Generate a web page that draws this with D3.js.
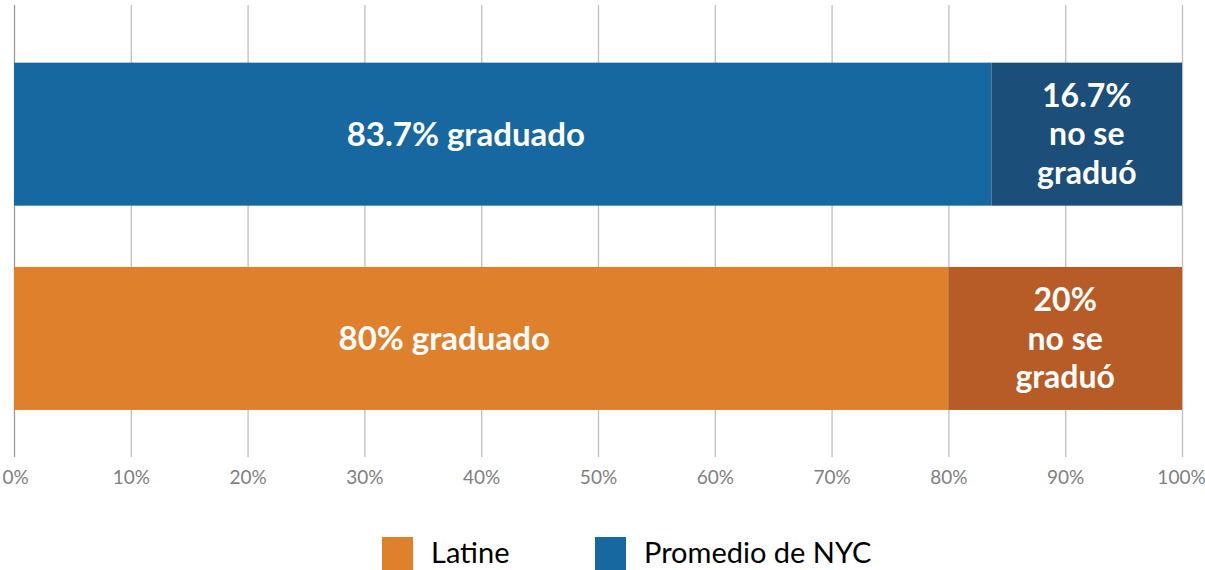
<!DOCTYPE html>
<html>
<head>
<meta charset="utf-8">
<script src="https://cdn.jsdelivr.net/npm/d3@7"></script>
<style>
  body { margin: 0; background: #fff; }
  svg text { font-family: Lato, "Open Sans", sans-serif; }
</style>
</head>
<body>
<div id="chart"></div>
<script>
// Data
const groups = ["Promedio de NYC", "Latine"];
const graduated = [83.7, 80];
const notGraduated = [16.7, 20];
const xTicks = [0, 10, 20, 30, 40, 50, 60, 70, 80, 90, 100];
const legendLabels = ["Latine", "Promedio de NYC"];

let width = 1205;
let height = 570;

// Colors for each group: main segment and darker remainder
const mainColor = { "Latine": "#df802c", "Promedio de NYC": "#1767a0" };
const darkColor = { "Latine": "#b75c27", "Promedio de NYC": "#1b4e78" };

const svg = d3.select("#chart")
  .append("svg")
  .attr("width", width)
  .attr("height", height);

// X scale: 0% - 100%
const x = d3.scaleLinear()
  .domain([0, 100])
  .range([14, 1182]);

// Y scale for the two bars
const y = d3.scaleBand()
  .domain(groups)
  .range([32, 440.6])
  .paddingInner(0.3)
  .paddingOuter(0.15);

// Gridlines that run from the top down past the bars
const axis = svg.append("g")
  .attr("transform", "translate(0, 457)")
  .call(d3.axisBottom(x)
    .tickValues(xTicks)
    .tickSize(452)
    .tickSizeOuter(0)
    .tickFormat(d => d + "%"));

axis.select(".domain").remove();
axis.selectAll(".tick line")
  .attr("y2", -452)
  .attr("stroke", d => d === 0 ? "#9a9a9a" : "#bfbfbf")
  .attr("stroke-width", 1.3);
axis.selectAll(".tick text")
  .attr("y", 14)
  .attr("dy", "0.71em")
  .attr("fill", "#7f7f7f")
  .style("font-size", "19px");

// keep the end labels inside the page
axis.selectAll(".tick text")
  .attr("dx", d => d === 100 ? -1 : (d === 0 ? 1 : 0));

const rows = groups.map((g, i) => ({ group: g, grad: graduated[i], notGrad: notGraduated[i] }));

// Graduated segment
svg.selectAll("rect.grad")
  .data(rows)
  .enter()
  .append("rect")
  .attr("class", "grad")
  .attr("x", x(0))
  .attr("y", d => y(d.group))
  .attr("width", d => x(d.grad) - x(0))
  .attr("height", y.bandwidth())
  .attr("fill", d => mainColor[d.group]);

// Not graduated segment (fills to 100%)
svg.selectAll("rect.notgrad")
  .data(rows)
  .enter()
  .append("rect")
  .attr("class", "notgrad")
  .attr("x", d => x(d.grad))
  .attr("y", d => y(d.group))
  .attr("width", d => x(100) - x(d.grad))
  .attr("height", y.bandwidth())
  .attr("fill", d => darkColor[d.group]);

// Label inside the graduated segment
svg.selectAll("text.gradLabel")
  .data(rows)
  .enter()
  .append("text")
  .attr("class", "gradLabel")
  .attr("x", d => (x(0) + x(d.grad)) / 2 - 37)
  .attr("y", d => y(d.group) + y.bandwidth() / 2)
  .attr("dy", "0.35em")
  .attr("text-anchor", "middle")
  .attr("fill", "#fff")
  .style("font-size", "33px")
  .style("font-weight", "bold")
  .text(d => d.grad + "% graduado");

// Three-line label inside the remainder segment
const notLabel = svg.selectAll("text.notLabel")
  .data(rows)
  .enter()
  .append("text")
  .attr("class", "notLabel")
  .attr("text-anchor", "middle")
  .attr("fill", "#fff")
  .style("font-size", "32px")
  .style("font-weight", "bold")
  .attr("y", d => y(d.group) + y.bandwidth() / 2);

notLabel.each(function(d) {
  const cx = (x(d.grad) + x(100)) / 2;
  const lines = [d.notGrad + "%", "no se", "graduó"];
  d3.select(this).selectAll("tspan")
    .data(lines)
    .enter()
    .append("tspan")
    .attr("x", cx)
    .attr("dy", (l, i) => i === 0 ? "-0.85em" : "1.2em")
    .text(l => l);
});

// Legend
const legend = svg.append("g");
const legendX = [382, 595];
legendLabels.forEach((name, i) => {
  legend.append("rect")
    .attr("x", legendX[i])
    .attr("y", 537)
    .attr("width", 31)
    .attr("height", 33)
    .attr("fill", mainColor[name]);
  legend.append("text")
    .attr("x", legendX[i] + 49)
    .attr("y", 553)
    .attr("dy", "0.35em")
    .attr("fill", "#000")
    .style("font-size", "29px")
    .text(name);
});
</script>
</body>
</html>
